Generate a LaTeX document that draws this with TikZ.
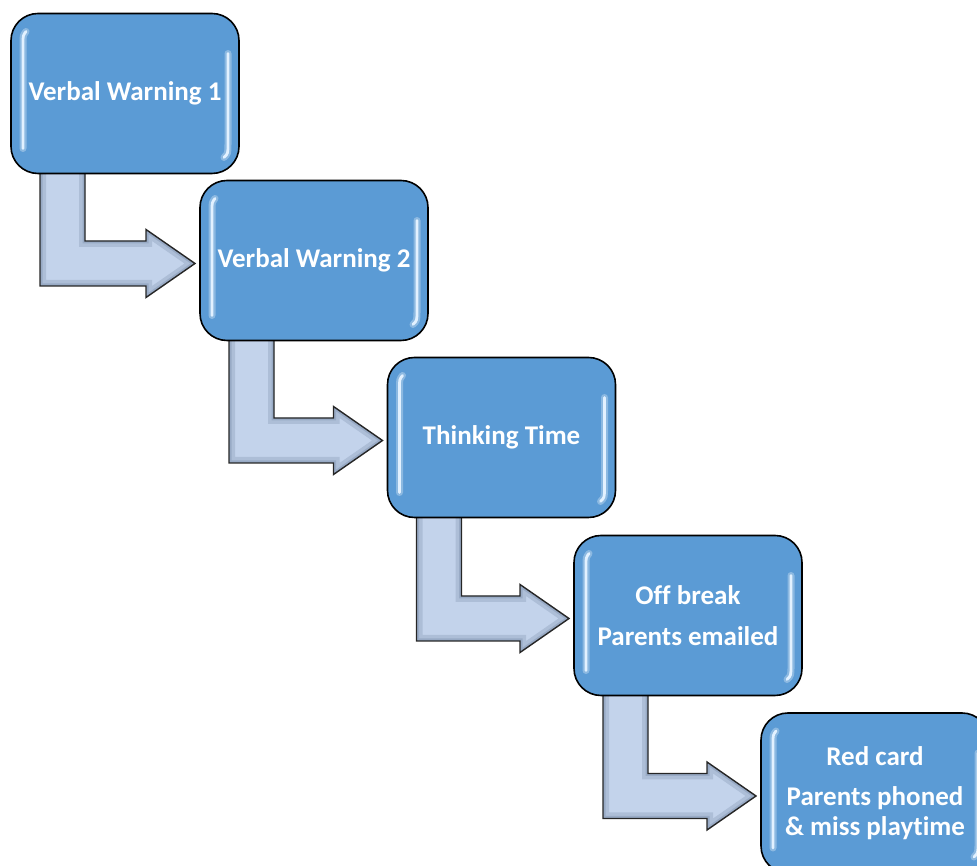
\documentclass[tikz,border=0pt]{standalone}
\usepackage{fontspec}
\setmainfont[Ligatures={NoCommon}]{Carlito}
\usetikzlibrary{calc}
\definecolor{boxblue}{HTML}{5B9BD5}
\definecolor{boxhi}{HTML}{E2F1FF}
\definecolor{arrowfill}{HTML}{C3D3EB}
\definecolor{arrowedge}{HTML}{8497B4}
\tikzset{
  stepbox/.style={draw=black, line width=1.6pt, fill=boxblue, rounded corners=27pt,
    minimum width=228pt, minimum height=160pt, inner sep=0pt, outer sep=0pt,
    text=white, align=center, font=\fontsize{27}{30}\selectfont\bfseries},
  hiline/.style={boxhi, line width=2.8pt, line cap=round},
  higlow/.style={white, line width=7pt, opacity=0.3, line cap=round},
}
\newcommand\bentarrow[3]{%
  \path let \p1=(#1.south west), \p2=(#2.west) in
    coordinate (#3a) at (\x1+29pt,\y1+10pt)
    coordinate (#3b) at (\x1+29pt,\y2-25.5pt)
    coordinate (#3c) at (\x2-54pt,\y2-25.5pt)
    coordinate (#3d) at (\x2-54pt,\y2-37pt)
    coordinate (#3e) at (\x2-5pt,\y2-3pt)
    coordinate (#3f) at (\x2-54pt,\y2+31pt)
    coordinate (#3g) at (\x2-54pt,\y2+19.5pt)
    coordinate (#3h) at (\x1+74pt,\y2+19.5pt)
    coordinate (#3i) at (\x1+74pt,\y1+10pt);
  \def\ap{(#3a)--(#3b)--(#3c)--(#3d)--(#3e)--(#3f)--(#3g)--(#3h)--(#3i)--cycle}
  \fill[arrowfill] \ap;
  \begin{scope}
    \clip \ap;
    \draw[arrowedge, line width=12pt, opacity=0.35, line join=miter] \ap;
    \draw[arrowedge, line width=5pt, opacity=0.5, line join=miter] \ap;
  \end{scope}
  \draw[black!85, line width=1.4pt, line join=miter] \ap;
}
\newcommand\gloss[1]{%
  \draw[higlow] ($(#1.north west)+(15,-18)$) .. controls ($(#1.north west)+(12,-22)$) .. ($(#1.north west)+(12,-30)$) -- ($(#1.south west)+(12,25)$);
  \draw[hiline] ($(#1.north west)+(15,-18)$) .. controls ($(#1.north west)+(12,-22)$) .. ($(#1.north west)+(12,-30)$) -- ($(#1.south west)+(12,25)$);
  \draw[higlow] ($(#1.north east)+(-11,-40)$) -- ($(#1.south east)+(-11,30)$) .. controls ($(#1.south east)+(-11,20)$) .. ($(#1.south east)+(-15,16)$);
  \draw[hiline] ($(#1.north east)+(-11,-40)$) -- ($(#1.south east)+(-11,30)$) .. controls ($(#1.south east)+(-11,20)$) .. ($(#1.south east)+(-15,16)$);
}
\begin{document}
\begin{tikzpicture}[x=1pt,y=1pt]
\useasboundingbox (0,0) rectangle (977,866);
\clip (0,0) rectangle (977,866);
\path (125,772.5) node[stepbox, fill=none, draw=none] (b1) {}
      (314,605.5) node[stepbox, fill=none, draw=none] (b2) {}
      (501.5,428.5) node[stepbox, fill=none, draw=none] (b3) {}
      (688,250.5) node[stepbox, fill=none, draw=none] (b4) {}
      (875,73) node[stepbox, fill=none, draw=none] (b5) {};
\bentarrow{b1}{b2}{ab}
\bentarrow{b2}{b3}{bc}
\bentarrow{b3}{b4}{cd}
\bentarrow{b4}{b5}{de}
\node[stepbox] (s1) at (b1) {Verbal Warning 1};
\gloss{s1}
\node[stepbox] (s2) at (b2) {Verbal Warning 2};
\gloss{s2}
\node[stepbox] (s3) at (b3) {Thinking Time};
\gloss{s3}
\node[stepbox] (s4) at (b4) {Off break\\[11pt]Parents emailed};
\gloss{s4}
\node[stepbox] (s5) at (b5) {Red card\\[10pt]Parents phoned\\\& miss playtime};
\gloss{s5}
\end{tikzpicture}
\end{document}
